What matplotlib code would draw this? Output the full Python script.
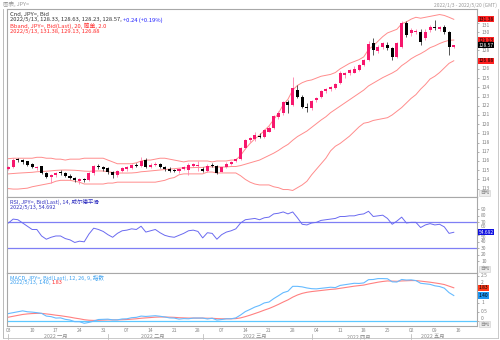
import matplotlib
matplotlib.use('Agg')
import matplotlib.pyplot as plt
import matplotlib.transforms as mtrans
import numpy as np
import pandas as pd

plt.rcParams['font.family'] = ['Noto Sans CJK SC', 'DejaVu Sans']

# ---------------- data ----------------
dates = pd.bdate_range('2022-01-03', '2022-05-13')
opens = [115.15,115.38,116.15,116.1,115.95,115.7,115.25,115.45,114.7,114.3,114.5,114.8,114.65,114.4,114.2,113.8,114.0,113.95,114.65,115.45,
         115.3,115.2,114.85,114.45,114.9,115.1,115.2,115.6,115.5,116.1,115.4,115.6,115.7,115.35,115.1,115.0,114.9,115.1,115.0,115.5,
         115.5,115.1,114.9,115.6,115.5,114.85,115.3,115.7,116.0,116.2,117.4,118.3,118.4,118.75,118.6,119.2,119.6,120.8,121.2,122.4,
         122.1,123.7,123.0,121.85,121.75,122.6,122.95,123.6,123.8,123.95,124.45,125.3,125.5,125.6,125.9,126.4,127.0,128.8,127.9,128.4,
         128.6,128.3,127.3,128.4,131.0,129.9,130.0,130.0,129.3,130.2,130.6,130.3,130.5,130.0,128.33]
highs = [115.45,116.35,116.3,116.2,116.05,115.8,115.5,115.5,114.85,114.6,114.75,115.05,114.8,114.55,114.3,114.15,114.2,114.75,115.6,115.7,
         115.45,115.3,114.95,115.0,115.4,115.5,115.7,115.75,116.4,116.3,115.75,115.85,115.8,115.5,115.3,115.15,115.25,115.45,115.75,115.8,
         116.0,115.3,115.7,115.8,115.6,115.4,115.85,116.0,116.35,117.5,118.35,118.65,119.1,119.0,119.5,119.8,121.0,121.4,122.5,122.6,
         125.1,124.3,123.2,122.3,122.6,122.9,123.7,123.95,124.1,124.5,125.8,125.7,126.0,126.3,126.5,127.1,129.0,129.4,128.6,128.9,
         128.9,128.4,128.9,131.2,131.25,130.4,130.3,130.3,130.3,130.8,131.3,130.7,130.8,130.1,128.63]
lows = [115.05,115.25,115.9,115.7,115.5,115.2,115.05,114.55,114.2,113.6,114.3,114.5,114.25,114.05,113.7,113.5,113.75,113.8,114.5,115.1,
        114.95,114.6,114.15,114.3,114.8,114.95,115.1,115.3,115.4,115.2,115.2,115.45,115.25,114.95,114.8,114.75,114.7,115.0,114.45,115.3,
        114.9,114.75,114.8,115.3,114.6,114.75,115.2,115.6,115.9,116.1,117.3,118.1,118.2,118.5,118.5,119.1,119.5,120.6,121.0,121.2,
        122.0,122.8,121.7,121.3,121.55,122.4,122.8,123.4,123.6,123.8,124.4,125.0,125.3,125.5,125.8,126.3,126.9,127.5,127.7,128.2,
        128.1,127.0,127.2,128.3,129.5,129.6,129.8,128.6,129.1,130.0,130.2,130.1,129.8,127.5,128.23]
closes = [115.38,116.15,116.1,115.85,115.6,115.3,115.35,114.7,114.3,114.5,114.65,114.65,114.35,114.2,113.9,114.0,113.9,114.65,115.5,115.3,
          115.15,114.75,114.45,114.9,115.25,115.4,115.55,115.5,115.95,115.4,115.6,115.7,115.4,115.1,114.95,114.9,115.1,115.3,115.6,115.7,
          115.55,114.9,115.5,115.45,114.7,115.3,115.7,115.9,116.2,117.4,118.3,118.5,118.8,118.65,119.4,119.6,120.9,121.2,122.4,122.1,
          123.9,122.95,121.85,121.7,122.5,122.8,123.6,123.8,124.05,124.4,125.55,125.6,125.85,126.0,126.4,127.0,128.7,128.0,128.4,128.8,
          128.3,127.3,128.8,131.0,129.7,130.2,130.1,128.9,130.0,130.6,130.4,130.5,130.0,128.4,128.57]
bb_upper = [116.25,116.3,116.3,116.3,116.3,116.3,116.4,116.4,116.3,116.3,116.2,116.2,116.1,116.2,116.2,116.2,116.3,116.3,116.3,116.3,
            116.3,116.1,115.9,115.7,115.7,115.7,115.7,115.8,116.0,116.1,116.1,116.2,116.3,116.3,116.2,116.1,116.0,115.9,116.0,116.0,
            116.0,116.0,116.0,115.9,116.0,116.0,116.0,116.1,116.1,116.6,117.3,117.9,118.4,118.8,119.3,119.8,120.5,121.2,122.1,122.7,
            123.7,124.2,124.5,124.7,124.8,125.0,125.2,125.3,125.4,125.6,126.0,126.3,126.6,126.8,127.0,127.3,128.1,128.5,129.0,129.5,
            129.9,130.1,130.3,130.9,131.1,131.4,131.6,131.5,131.6,131.7,131.8,131.9,131.8,131.6,131.38]
bb_middle = [114.60,114.64,114.68,114.71,114.74,114.77,114.83,114.86,114.89,114.93,114.98,115.01,115.02,115.01,114.99,114.95,114.90,114.88,114.91,114.92,
             114.91,114.84,114.75,114.70,114.69,114.69,114.70,114.74,114.83,114.87,114.92,114.97,115.02,115.07,115.12,115.16,115.22,115.26,115.26,115.28,
             115.3,115.3,115.4,115.35,115.35,115.35,115.35,115.4,115.4,115.5,115.65,115.8,115.95,116.1,116.35,116.6,116.85,117.15,117.5,117.8,
             118.25,118.65,118.95,119.25,119.65,120.05,120.45,120.8,121.25,121.6,121.95,122.3,122.65,123.0,123.35,123.7,124.15,124.45,124.75,125.05,
             125.3,125.55,125.85,126.35,126.7,127.1,127.4,127.65,127.95,128.3,128.5,128.75,128.95,129.1,129.13]
bb_lower = [113.0,112.95,112.95,113.0,113.05,113.2,113.3,113.4,113.5,113.6,113.8,113.9,113.9,113.9,113.8,113.7,113.5,113.5,113.5,113.5,
            113.5,113.6,113.6,113.7,113.7,113.7,113.7,113.7,113.7,113.7,113.7,113.7,113.8,113.9,114.1,114.2,114.5,114.6,114.6,114.6,
            114.6,114.6,114.8,114.8,114.7,114.7,114.7,114.7,114.7,114.4,114.0,113.7,113.5,113.4,113.4,113.4,113.2,113.1,112.9,112.9,
            112.8,113.1,113.4,113.8,114.5,115.1,115.7,116.3,117.1,117.6,117.9,118.3,118.7,119.2,119.7,120.1,120.2,120.4,120.5,120.6,
            120.7,121.0,121.4,121.8,122.3,122.8,123.2,123.8,124.3,124.9,125.2,125.6,126.1,126.6,126.88]
rsi_vals = [69,75,74,69,64,59,59,49,44,47,49,49,45,43,39,41,40,52,61,59,56,51,47,53,57,58,60,59,64,55,57,59,54,50,48,47,50,53,57,58,
            56,46,54,53,44,51,55,57,60,69,74,75,76,74,77,78,83,84,86,83,86,77,67,66,69,70,73,74,75,76,79,79,80,80,82,83,87,79,80,81,
            76,67,72,78,69,70,70,62,66,68,66,67,63,53,54.69]
macd_vals = [0.40,0.45,0.50,0.55,0.50,0.48,0.45,0.41,0.26,0.23,0.15,0.16,0.08,0.04,-0.05,-0.05,-0.14,-0.09,-0.02,0.07,
             0.08,0.09,0.05,0.05,0.10,0.11,0.17,0.19,0.26,0.24,0.26,0.28,0.25,0.21,0.16,0.15,0.09,0.12,0.11,0.15,
             0.15,0.15,0.10,0.14,0.04,0.07,0.11,0.11,0.16,0.32,0.51,0.63,0.76,0.85,0.99,1.04,1.23,1.39,1.56,1.64,
             1.91,1.91,1.88,1.82,1.78,1.77,1.80,1.83,1.86,1.84,1.96,2.00,2.04,2.08,2.07,2.10,2.28,2.29,2.34,2.34,
             2.33,2.16,2.15,2.29,2.26,2.27,2.23,2.08,2.05,2.02,1.94,1.90,1.81,1.56,1.40]
signal_vals = [0.20,0.25,0.30,0.35,0.38,0.40,0.41,0.41,0.38,0.35,0.31,0.28,0.24,0.20,0.15,0.11,0.06,0.03,0.02,0.03,
               0.04,0.05,0.05,0.05,0.06,0.07,0.09,0.11,0.14,0.16,0.18,0.20,0.21,0.21,0.20,0.19,0.17,0.16,0.15,0.15,
               0.15,0.15,0.14,0.14,0.12,0.11,0.11,0.11,0.12,0.16,0.23,0.31,0.40,0.49,0.59,0.68,0.79,0.91,1.04,1.16,
               1.31,1.43,1.52,1.58,1.62,1.65,1.68,1.71,1.74,1.76,1.80,1.84,1.88,1.92,1.95,1.98,2.04,2.09,2.14,2.18,
               2.21,2.20,2.19,2.21,2.22,2.23,2.23,2.20,2.17,2.14,2.10,2.06,2.01,1.92,1.83]
week_labels = ['03','10','17','24','31','07','14','21','28','07','14','21','28','04','11','18','25','02','09','16']
month_labels = ['2022 一月', '2022 二月', '2022 三月', '2022 四月', '2022 五月']
price_ticks = [113,114,115,116,117,118,119,120,121,122,123,124,125,126,128,130,131]
rsi_ticks = [10,20,30,40,50,60,70,80,90]
macd_ticks = [0, 0.5, 1, 2, 2.5]

# ---------------- layout ----------------
W, H = 500, 340
fig = plt.figure(figsize=(5, 3.4), dpi=100)
def add_ax(x0, y0, x1, y1):
    return fig.add_axes([x0/W, 1 - y1/H, (x1-x0)/W, (y1-y0)/H])

ax = add_ax(7, 9, 477, 197)
ax_r = add_ax(7, 197, 477, 273)
ax_m = add_ax(7, 273, 477, 326)
n = len(closes)
x = np.arange(n)
XL = (-0.3, 98.9)
for a in (ax, ax_r, ax_m):
    a.set_xlim(*XL)
    for sp in a.spines.values():
        sp.set_color('#a8a8a8'); sp.set_linewidth(0.8)
    a.yaxis.tick_right()
    a.tick_params(axis='y', labelright=False, colors='#909090', length=1.5, width=0.5)
    a.tick_params(axis='x', length=0)
    a.set_xticks([])

def ylabels(a, ticks, shifts=None):
    a.set_yticks(ticks)
    shifts = shifts or {}
    for t in ticks:
        a.annotate(f'{t:g}', xy=(1, t), xycoords=('axes fraction', 'data'), xytext=(3, shifts.get(t, 0)),
                   textcoords='offset points', ha='left', va='center', fontsize=3.5, color='#808080',
                   annotation_clip=False)

# candles
bull = '#f7176d'
o = np.array(opens); c = np.array(closes); h = np.array(highs); lw_ = np.array(lows)
isbull = c >= o
wcol = np.where(isbull, '#ff80ab', '#3a3a3a')
ax.vlines(x, lw_, h, colors=wcol, linewidth=0.6, zorder=2)
bodyb = np.minimum(o, c); bodyh = np.maximum(np.abs(c - o), 0.07)
ax.bar(x, bodyh, bottom=bodyb, width=0.64, color=np.where(isbull, bull, '#000000'), linewidth=0, zorder=3)
bbc = '#ff8c8c'
for arr in (bb_upper, bb_middle, bb_lower):
    ax.plot(x, arr, color=bbc, lw=0.7, zorder=1)
ax.set_ylim(112.09, 132.5)
ylabels(ax, price_ticks, {131: -2.2})

# RSI
ax_r.set_ylim(-8, 109)
ax_r.axhline(70, color='#7f7ff5', lw=0.9)
ax_r.axhline(30, color='#7f7ff5', lw=0.9)
ax_r.plot(x, rsi_vals, color='#6a6af0', lw=0.7)
ylabels(ax_r, rsi_ticks, {60: 1.6, 50: -1.6})

# MACD
ax_m.set_ylim(-0.29, 2.65)
ax_m.axhline(0, color='#5ec8ff', lw=0.9)
ax_m.plot(x, signal_vals, color='#ff8080', lw=0.8)
ax_m.plot(x, macd_vals, color='#66bbff', lw=0.8)
ylabels(ax_m, macd_ticks, {0: 1.6, 2: 1.4})

# date axis
mondays = [i for i, d in enumerate(dates) if d.weekday() == 0] + [n]
tr = mtrans.blended_transform_factory(ax_m.transData, ax_m.transAxes)
for p, t in zip(mondays, week_labels):
    ax_m.text(p, -0.09, t, transform=tr, ha='center', va='center', fontsize=3.6, color='#8a8a8a', clip_on=False)
month_start = [i for i in range(n) if i == 0 or dates[i].month != dates[i-1].month]
month_end = month_start[1:] + [n]
for p in month_start:
    ax_m.plot([p, p], [-0.15, -0.25], transform=tr, color='#b0b0b0', lw=0.5, clip_on=False)
for p0, p1, t in zip(month_start, month_end, month_labels):
    ax_m.text((p0 + p1 - 1) / 2, -0.2, t, transform=tr, ha='center', va='center', fontsize=3.8, color='#8a8a8a', clip_on=False)

def box(a, v, txt, fc, tc='black'):
    a.annotate(txt, xy=(1, v), xycoords=('axes fraction', 'data'), xytext=(1.2, 0), textcoords='offset points',
               ha='left', va='center', fontsize=3.5, color=tc, zorder=10, annotation_clip=False,
               bbox=dict(boxstyle='square,pad=0.12', fc=fc, ec='none'))
box(ax, bb_upper[-1], f'{bb_upper[-1]:.2f}', '#ff2020')
box(ax, bb_middle[-1], f'{bb_middle[-1]:.2f}', '#ff2020')
box(ax, closes[-1], f'{closes[-1]:.2f}', '#000000', 'white')
box(ax, bb_lower[-1], f'{bb_lower[-1]:.2f}', '#ff2020')
box(ax_r, rsi_vals[-1], '54.692', '#1010e0', 'white')
box(ax_m, signal_vals[-1], f'{signal_vals[-1]:.2f}', '#ff3a1a')
box(ax_m, macd_vals[-1], f'{macd_vals[-1]:.2f}', '#1f95f0')
for a, dy in ((ax, 3.0), (ax_r, 3.0), (ax_m, 1.3)):
    a.annotate('自动', xy=(1, 0), xycoords='axes fraction', xytext=(2, dy), textcoords='offset points', ha='left', va='center',
               fontsize=3.4, color='#8a8a8a', annotation_clip=False,
               bbox=dict(boxstyle='square,pad=0.12', fc='#eeeeee', ec='#cccccc', lw=0.4))

# legends
fig.canvas.draw()
rend = fig.canvas.get_renderer()
def seg_text(a, xf, yf, parts, fs):
    xp, yp = a.transAxes.transform((xf, yf))
    for t, col in parts:
        tt = fig.text(xp / W, yp / H, t, fontsize=fs, color=col, va='top', ha='left')
        xp += tt.get_window_extent(rend).width
seg_text(ax, 0.006, 0.985, [('Cnd, JPY=, Bid', '#333333')], 4.2)
seg_text(ax, 0.006, 0.955, [('2022/5/13, 128.33, 128.63, 128.23, 128.57, ', '#333333'), ('+0.24 (+0.19%)', '#2020ff')], 4.2)
seg_text(ax, 0.006, 0.925, [('Bband, JPY=, Bid(Last), 20, 简单, 2.0', '#ff2a2a')], 4.2)
seg_text(ax, 0.006, 0.895, [('2022/5/13, 131.38, 129.13, 126.88', '#ff2a2a')], 4.2)
seg_text(ax_r, 0.006, 0.97, [('RSI, JPY=, Bid(Last), 14, 威尔德平滑', '#3030c0')], 4.0)
seg_text(ax_r, 0.006, 0.90, [('2022/5/13, 54.692', '#3030c0')], 4.0)
seg_text(ax_m, 0.006, 0.96, [('MACD, JPY=, Bid(Last), 12, 26, 9, 指数', '#3aa0f0')], 4.0)
seg_text(ax_m, 0.006, 0.86, [('2022/5/13, ', '#3aa0f0'), ('1.40', '#3aa0f0'), (', ', '#3aa0f0'), ('1.83', '#ff3030')], 4.0)

fig.text(3/W, 1 - 4/H, '图表, JPY=', fontsize=4.0, color='#999999', va='center')
fig.text(497/W, 1 - 5/H, '2022/1/3 - 2022/5/20 (GMT)', fontsize=3.6, color='#999999', va='center', ha='right')
fig.add_artist(plt.Line2D([2.5/W, 2.5/W], [1 - 9/H, 1 - 338/H], color='#b0b0b0', lw=0.6))
fig.add_artist(plt.Line2D([2.5/W, 498/W], [1 - 338/H, 1 - 338/H], color='#c0c0c0', lw=0.6))
fig.add_artist(plt.Line2D([498/W, 498/W], [1 - 9/H, 1 - 338/H], color='#c0c0c0', lw=0.6))

fig.savefig('out.png', dpi=100)
